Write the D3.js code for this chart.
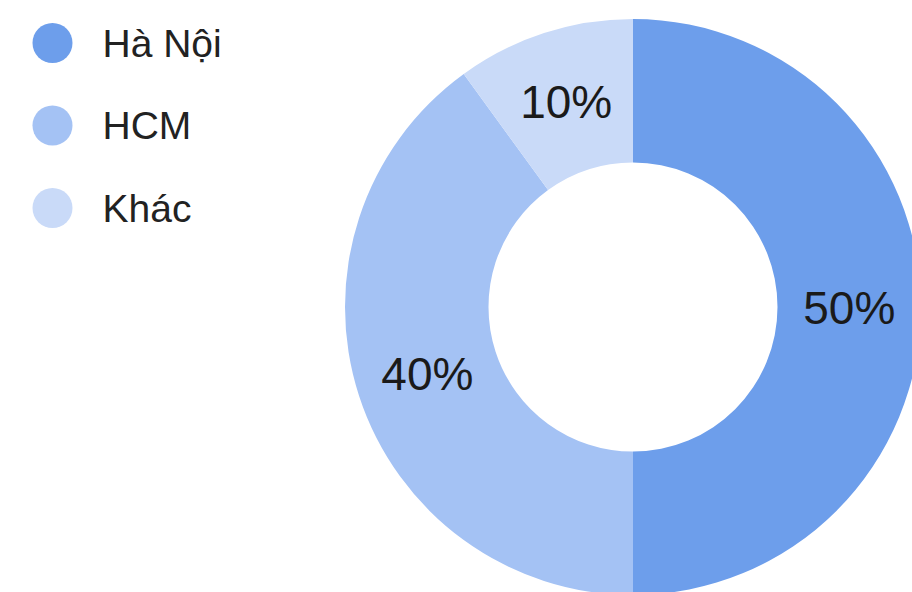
<!DOCTYPE html>
<html>
<head>
<meta charset="utf-8">
<script src="https://cdn.jsdelivr.net/npm/d3@7"></script>
<style>
  html, body { margin: 0; padding: 0; background: #fff; }
  svg { display: block; font-family: "Liberation Sans", Arial, sans-serif; }
</style>
</head>
<body>
<div id="chart"></div>
<script>
// data
const labels = ["Hà Nội", "HCM", "Khác"];
const values = [50, 40, 10];
const colors = ["#6d9eeb", "#a4c2f4", "#c9daf8"];

const width = 912, height = 592;
const cx = 633, cy = 307;
const outerR = 288, innerR = 144.5;

let svg = d3.select("#chart").append("svg")
  .attr("width", width)
  .attr("height", height);

let color = d3.scaleOrdinal().domain(labels).range(colors);

let pie = d3.pie().sort(null).value(d => d.value);
let arc = d3.arc().innerRadius(innerR).outerRadius(outerR);

let rows = labels.map((l, i) => ({ label: l, value: values[i] }));
let total = d3.sum(values);

let g = svg.append("g").attr("transform", `translate(${cx},${cy})`);

let slices = g.selectAll("g.slice")
  .data(pie(rows))
  .enter().append("g")
  .attr("class", "slice");

slices.append("path")
  .attr("d", arc)
  .attr("fill", d => color(d.data.label));

// percent labels at centroid
slices.append("text")
  .attr("transform", d => `translate(${arc.centroid(d)})`)
  .attr("text-anchor", "middle")
  .attr("dy", "0.36em")
  .style("font-size", "46px")
  .style("fill", "#1a1a1a")
  .text(d => Math.round(d.data.value / total * 100) + "%");

// legend
let legendY = d3.scalePoint().domain(labels).range([43, 208]);

let legend = svg.selectAll("g.legend")
  .data(labels)
  .enter().append("g")
  .attr("class", "legend")
  .attr("transform", d => `translate(52.5,${legendY(d)})`);

legend.append("circle")
  .attr("r", 20)
  .attr("fill", d => color(d));

legend.append("text")
  .attr("x", 50)
  .attr("dy", "0.35em")
  .style("font-size", "39px")
  .style("fill", "#222")
  .text(d => d);
</script>
</body>
</html>
